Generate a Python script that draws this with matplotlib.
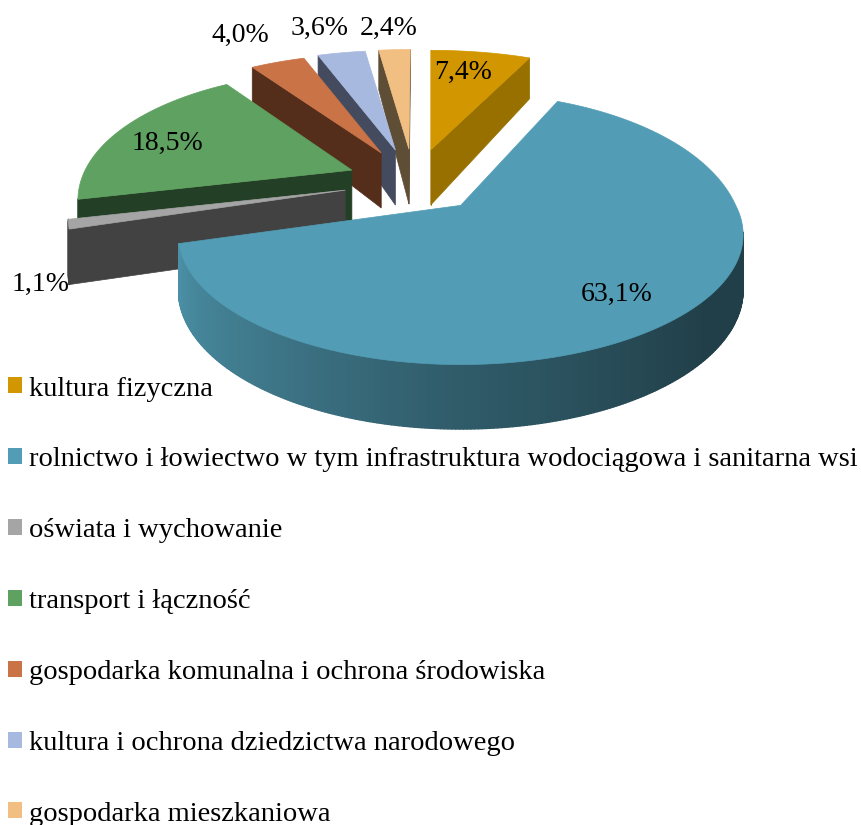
import numpy as np
import matplotlib
matplotlib.use("Agg")
import matplotlib.pyplot as plt
from matplotlib.patches import Polygon, Patch
from matplotlib.collections import PolyCollection

# data, clockwise from 12 o'clock
labels = ["kultura fizyczna",
          "rolnictwo i łowiectwo w tym infrastruktura wodociągowa i sanitarna wsi",
          "oświata i wychowanie",
          "transport i łączność",
          "gospodarka komunalna i ochrona środowiska",
          "kultura i ochrona dziedzictwa narodowego",
          "gospodarka mieszkaniowa"]
shares = [7.4, 63.1, 1.1, 18.5, 4.0, 3.6, 2.4]
value_text = ["7,4%", "63,1%", "1,1%", "18,5%", "4,0%", "3,6%", "2,4%"]

top_colors = ["#d19600", "#529db5", "#a5a5a5", "#5fa160", "#c97347", "#a7b9df", "#f1bf82"]
wall_colors = ["#977000", "#1f434e", "#424242", "#233f25", "#552e1b", "#454b5e", "#5f4e36"]
label_pos = [(463, 72), (617, 294), (41, 284), (167, 143), (240, 35), (320, 28), (389, 28)]

# small per slice corrections of the fake projection
nudge_x = [0, 0, 2, 6, 2, 0, 0]
nudge_y = [0, -2, 0, 0, 0, 0, 0]
scale_x = [1.02, 1, 0.98, 0.97, 1, 1, 1]
scale_back = [1, 1.13, 1, 1, 1, 1, 1]
scale_front = [1, 0.98, 1, 1, 1, 1, 1]

# fake 3d projection, all in pixels
CX, CY = 414, 182
RX, RY = 275, 131
EX, EY = 73, 33
PERSP = 0.24
DEPTH = 52
APEX_DEPTH = 55
FONT = ["Liberation Serif", "DejaVu Serif"]


def project(th, apex, i):
    u = np.sin(th)
    v = np.cos(th)
    s = 1 - PERSP * v
    ky = np.where(v > 0, scale_back[i], scale_front[i])
    return apex[0] + RX * scale_x[i] * u * s, apex[1] - RY * ky * v * s


def depth_at(th):
    return DEPTH * (1 - PERSP * np.cos(th))


def main_shade(th_deg):
    return np.interp(th_deg, [90, 130, 180, 215, 254], [0.40, 0.40, 0.58, 0.75, 0.92])


fig = plt.figure(figsize=(8.61, 8.25), dpi=100)
ax = fig.add_axes([0, 0, 1, 1])
ax.set_xlim(0, 861)
ax.set_ylim(825, 0)
ax.axis("off")

edges = np.radians(np.cumsum([0] + shares) * 3.6)
mids = (edges[:-1] + edges[1:]) / 2
order = np.argsort(-np.cos(mids))

for i in order:
    t0, t1 = edges[i], edges[i + 1]
    apex = (CX + EX * np.sin(mids[i]) + nudge_x[i], CY - EY * np.cos(mids[i]) + nudge_y[i])
    ths = np.linspace(t0, t1, max(int((t1 - t0) * 60), 6))
    xs, ys = project(ths, apex, i)
    xm, ym = project(mids[i], apex, i)

    # straight side walls, only the ones with the slice above them
    for t in (t0, t1):
        ex, ey = project(t, apex, i)
        cross = (ex - apex[0]) * (ym - apex[1]) - (ey - apex[1]) * (xm - apex[0])
        sign = cross if ex > apex[0] else -cross
        if sign < 0:
            h = depth_at(t)
            ax.add_patch(Polygon([apex, (ex, ey), (ex, ey + h), (apex[0], apex[1] + APEX_DEPTH)],
                                 closed=True, fc=wall_colors[i], ec=wall_colors[i], lw=0.5))

    # curved wall, starts where the rim turns back inwards
    quads, cols = [], []
    fine = np.linspace(t0, t1, max(int((t1 - t0) * 90), 6))
    for a, b in zip(fine[:-1], fine[1:]):
        if np.cos((a + b) / 2) > -0.2:
            continue
        xa, ya = project(a, apex, i)
        xb, yb = project(b, apex, i)
        quads.append([(xa, ya), (xb, yb), (xb, yb + depth_at(b)), (xa, ya + depth_at(a))])
        if i == 1:
            f = main_shade(np.degrees((a + b) / 2))
            base = np.array(matplotlib.colors.to_rgb(top_colors[i]))
            cols.append(tuple(base * f))
        else:
            cols.append(wall_colors[i])
    if quads:
        ax.add_collection(PolyCollection(quads, facecolors=cols, edgecolors=cols, linewidths=1.0))

    pts = [apex] + list(zip(xs, ys))
    ax.add_patch(Polygon(pts, closed=True, fc=top_colors[i], ec=top_colors[i], lw=0.5))

for txt, (x, y) in zip(value_text, label_pos):
    ax.text(x, y, txt, ha="center", va="center", fontsize=20, family=FONT, color="black", zorder=5)

handles = [Patch(fc=c, ec=c, lw=0) for c in top_colors]
ax.legend(handles, labels, loc="upper left", bbox_to_anchor=(8, 376.5), bbox_transform=ax.transData,
          frameon=False, prop={"family": FONT, "size": 20.5}, borderpad=0, borderaxespad=0,
          handlelength=0.49, handleheight=0.49, handletextpad=0.25, labelspacing=1.61)

fig.savefig("out.png", dpi=100)
